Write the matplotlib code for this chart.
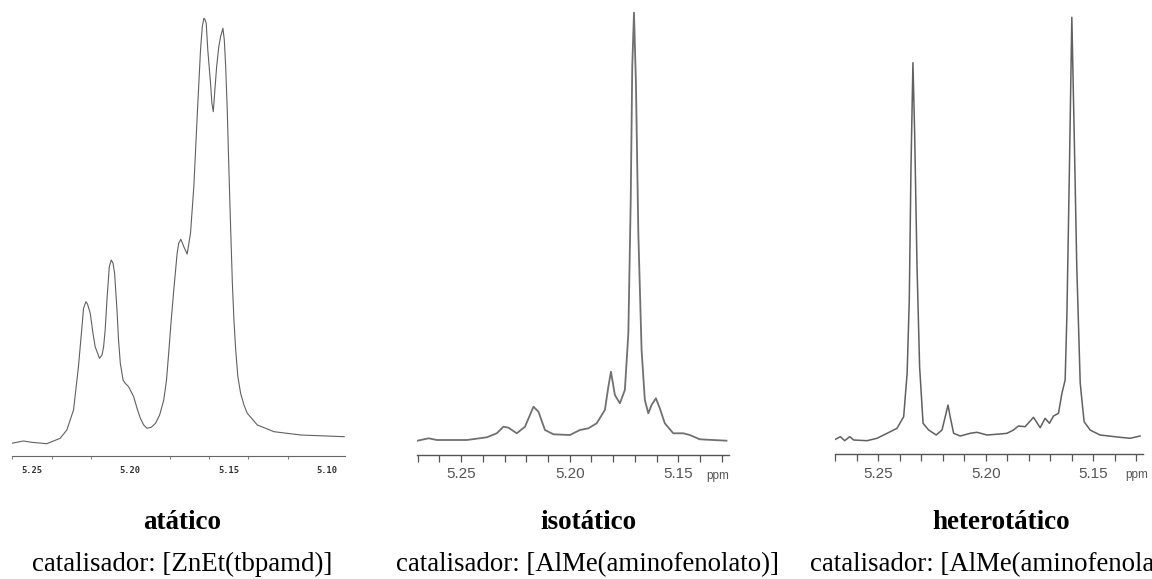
import matplotlib.pyplot as plt
import matplotlib.transforms as mtransforms

# Data (ppm, intensity in arbitrary units)
ppm_atatico = [5.2604, 5.2544, 5.2502, 5.2425, 5.2357, 5.2323, 5.2289, 5.2264, 5.2246, 5.2238,
               5.2226, 5.2218, 5.2204, 5.2190, 5.2179, 5.2157, 5.2144, 5.2136, 5.2128, 5.2119,
               5.2107, 5.2097, 5.2088, 5.2080, 5.2068, 5.2060, 5.2051, 5.2037, 5.2026, 5.2009,
               5.1983, 5.1966, 5.1949, 5.1932, 5.1915, 5.1894, 5.1872, 5.1851, 5.1830, 5.1816,
               5.1805, 5.1792, 5.1779, 5.1762, 5.1754, 5.1743, 5.1728, 5.1711, 5.1694, 5.1677,
               5.1660, 5.1643, 5.1634, 5.1626, 5.1621, 5.1614, 5.1606, 5.1592, 5.1585, 5.1578,
               5.1570, 5.1561, 5.1550, 5.1541, 5.1529, 5.1522, 5.1515, 5.1507, 5.1499, 5.1490,
               5.1481, 5.1473, 5.1464, 5.1453, 5.1439, 5.1422, 5.1405, 5.1354, 5.1269, 5.1133,
               5.0912]
int_atatico = [12.7, 15.0, 13.7, 12.3, 17.7, 26.0, 46.0, 89.3, 129.3, 147.7,
               154.3, 152.0, 142.7, 122.7, 109.3, 97.7, 101.0, 109.3, 126.0, 156.0,
               189.3, 196.0, 192.7, 182.7, 146.0, 116.0, 92.7, 76.0, 72.7, 69.3,
               59.3, 47.7, 37.7, 31.0, 27.7, 28.7, 32.7, 41.0, 56.0, 76.0,
               102.7, 136.0, 166.0, 202.7, 212.7, 216.7, 209.3, 202.0, 222.7, 269.3,
               339.3, 406.0, 429.3, 437.7, 436.7, 432.7, 406.0, 372.7, 352.7, 344.3,
               366.0, 389.3, 409.3, 419.3, 427.7, 416.0, 389.3, 346.0, 289.3, 229.3,
               172.7, 136.0, 106.0, 79.3, 62.7, 51.0, 42.7, 31.0, 24.3, 21.0,
               19.3]

ppm_isotatico = [5.2701, 5.2650, 5.2612, 5.2474, 5.2382, 5.2336, 5.2305, 5.2282, 5.2244, 5.2206,
                 5.2167, 5.2144, 5.2114, 5.2075, 5.1999, 5.1953, 5.1914, 5.1876, 5.1838, 5.1822,
                 5.1810, 5.1792, 5.1769, 5.1746, 5.1730, 5.1719, 5.1712, 5.1704, 5.1695, 5.1684,
                 5.1669, 5.1654, 5.1638, 5.1623, 5.1603, 5.1585, 5.1562, 5.1523, 5.1477, 5.1447,
                 5.1401, 5.1278]
int_isotatico = [14.3, 16.7, 15.0, 15.0, 17.7, 21.7, 28.3, 27.3, 21.7, 28.3,
                 48.3, 43.3, 25.0, 20.7, 20.0, 25.0, 26.7, 31.7, 45.0, 68.3,
                 83.3, 60.0, 51.7, 65.0, 121.7, 255.0, 388.3, 442.3, 371.7, 221.7,
                 105.0, 55.0, 41.7, 50.0, 56.7, 46.7, 31.7, 21.7, 21.7, 20.0,
                 15.7, 14.3]

ppm_heterotatico = [5.2698, 5.2675, 5.2655, 5.2632, 5.2613, 5.2551, 5.2505, 5.2458, 5.2412, 5.2381,
                    5.2365, 5.2355, 5.2347, 5.2338, 5.2330, 5.2319, 5.2307, 5.2291, 5.2265, 5.2230,
                    5.2203, 5.2188, 5.2175, 5.2165, 5.2149, 5.2118, 5.2072, 5.2041, 5.1994, 5.1933,
                    5.1901, 5.1871, 5.1848, 5.1817, 5.1778, 5.1747, 5.1724, 5.1704, 5.1685, 5.1662,
                    5.1646, 5.1631, 5.1623, 5.1611, 5.1600, 5.1589, 5.1577, 5.1561, 5.1543, 5.1515,
                    5.1469, 5.1376, 5.1329, 5.1283]
int_heterotatico = [14.7, 17.3, 13.3, 17.3, 14.0, 13.3, 15.7, 20.7, 25.7, 37.3,
                    80.7, 154.0, 287.3, 391.3, 320.7, 187.3, 87.3, 30.7, 24.0, 19.0,
                    24.0, 37.3, 49.0, 37.3, 20.7, 18.0, 20.7, 21.7, 19.0, 20.0,
                    20.7, 24.0, 28.0, 27.3, 36.7, 26.3, 35.7, 30.7, 38.0, 40.7,
                    60.7, 74.0, 137.3, 287.3, 436.7, 320.7, 187.3, 70.7, 32.3, 24.0,
                    19.0, 16.7, 15.7, 18.0]

titles = ['atático', 'isotático', 'heterotático']
catalysts = ['catalisador: [ZnEt(tbpamd)]',
             'catalisador: [AlMe(aminofenolato)]',
             'catalisador: [AlMe(aminofenolato)]']

W, H = 1152, 579
fig = plt.figure(figsize=(W / 100, H / 100), dpi=100)


def px_axes(x0, x1, ybot):
    return fig.add_axes([x0 / W, (H - ybot) / H, (x1 - x0) / W, ybot / H])


def strip(ax):
    for s in ['top', 'left', 'right']:
        ax.spines[s].set_visible(False)
    ax.set_yticks([])
    ax.patch.set_alpha(0)


# --- panel 1: old plotter spectrum ---
ax1 = px_axes(12, 345, 456)
ax1.plot(ppm_atatico, int_atatico, color='#606060', lw=0.8)
ax1.set_xlim(5.2602, 5.0908)
ax1.set_ylim(0, 456)
strip(ax1)
ax1.spines['bottom'].set_color('#666666')
ax1.spines['bottom'].set_linewidth(0.8)
ax1.set_xticks([5.25, 5.20, 5.15, 5.10])
ax1.set_xticklabels(['5.25', '5.20', '5.15', '5.10'])
ax1.set_xticks([5.26, 5.24, 5.22, 5.20, 5.18, 5.16, 5.14, 5.12, 5.10], minor=True)
ax1.tick_params(axis='x', which='major', length=0, pad=7, labelsize=6.3,
                labelcolor='#333333')
ax1.tick_params(axis='x', which='minor', length=2.5, width=0.6, color='#666666')
for lab in ax1.get_xticklabels():
    lab.set_family('DejaVu Sans Mono')
    lab.set_weight('bold')

# --- panels 2 and 3: modern spectra ---
specs = [
    (ppm_isotatico, int_isotatico, 417.3, 729.3, 455, 5.2702, 5.1265, '#707070', 1.3, 5.1317),
    (ppm_heterotatico, int_heterotatico, 835, 1143.3, 454, 5.2698, 5.1268, '#606060', 1.1, 5.1297),
]
for ppm, inten, x0, x1, yb, lo, hi, col, lw, ppm_x in specs:
    ax = px_axes(x0, x1, yb)
    ax.plot(ppm, inten, color=col, lw=lw)
    ax.set_xlim(lo, hi)
    ax.set_ylim(0, yb)
    strip(ax)
    ax.spines['bottom'].set_color('#555555')
    ax.spines['bottom'].set_linewidth(1.0)
    ax.set_xticks([5.25, 5.20, 5.15])
    ax.set_xticklabels(['5.25', '5.20', '5.15'])
    ax.set_xticks([5.27, 5.26, 5.24, 5.23, 5.22, 5.21, 5.19, 5.18, 5.17, 5.16,
                   5.14, 5.13], minor=True)
    ax.tick_params(axis='x', which='both', length=5, width=0.9, color='#555555',
                   direction='out')
    ax.tick_params(axis='x', which='major', pad=4, labelsize=11, labelcolor='#555555')
    for lab in ax.get_xticklabels():
        lab.set_family('Liberation Sans')
    trans = mtransforms.blended_transform_factory(ax.transData, ax.transAxes)
    ax.text(ppm_x, -0.047, 'ppm', transform=trans, ha='center', va='center',
            fontsize=8.5, color='#555555', family='Liberation Sans')

# --- captions ---
centers = [182, 588, 1001]
for cx, t, c in zip(centers, titles, catalysts):
    fig.text(cx / W, (H - 529) / H, t, ha='center', va='baseline',
             family='Liberation Serif', weight='bold', fontsize=19.5)
    fig.text(cx / W, (H - 571) / H, c, ha='center', va='baseline',
             family='Liberation Serif', fontsize=19.4)

fig.savefig('out.png', dpi=100, facecolor='white')
